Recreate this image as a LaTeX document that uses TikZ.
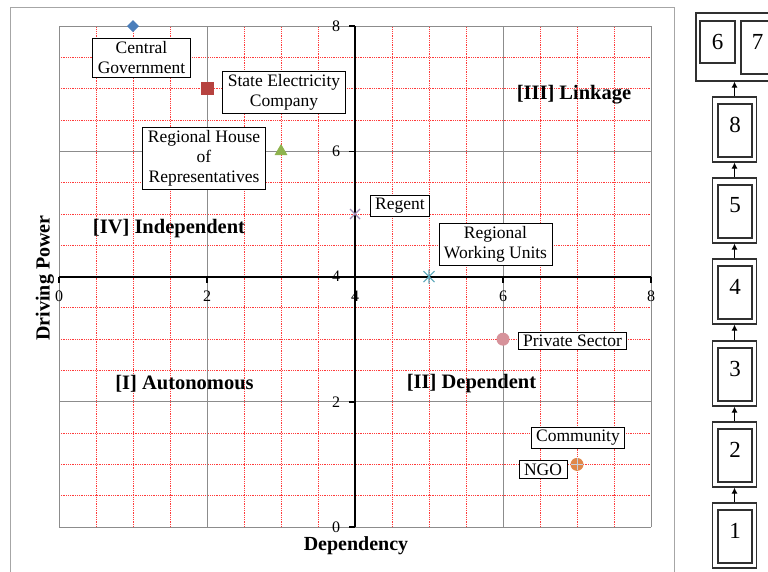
\documentclass[tikz,border=0pt]{standalone}
\usepackage{fontspec}
\setmainfont{Liberation Serif}
\usetikzlibrary{arrows.meta,shapes.geometric,shapes.misc}
\definecolor{framegray}{HTML}{A6A6A6}
\definecolor{majorgray}{HTML}{8C8C8C}
\definecolor{minorred}{HTML}{FF3B3B}
\definecolor{cgblue}{HTML}{4A7EBB}
\definecolor{secred}{HTML}{B6423F}
\definecolor{rhgreen}{HTML}{8FB34E}
\definecolor{regentpurple}{HTML}{A08DB8}
\definecolor{rwuteal}{HTML}{5AA6B8}
\definecolor{pspink}{HTML}{D6929A}
\definecolor{ngoorange}{HTML}{E0874A}
\definecolor{commblue}{HTML}{C9D2DE}
\definecolor{boxline}{HTML}{303030}

\begin{document}
\begin{tikzpicture}[x=1pt,y=-1pt,
  lbl/.style={draw=black,line width=0.8pt,fill=white,align=center,
    inner xsep=5pt,inner ysep=3pt,font=\fontsize{17.5}{20}\selectfont},
  quad/.style={font=\fontsize{20.5}{23}\selectfont\bfseries,inner sep=0pt},
  axtitle/.style={font=\fontsize{20}{23}\selectfont\bfseries,inner sep=0pt},
  ticklbl/.style={font=\fontsize{16}{18}\selectfont,inner sep=0pt},
  minorline/.style={minorred,line width=0.85pt,dash pattern=on 1pt off 0.8pt},
  majorline/.style={majorgray,line width=0.9pt},
  axisline/.style={black,line width=1.8pt},
  outerbox/.style={draw=boxline,line width=1.2pt,minimum width=44pt,
    minimum height=65pt,inner sep=0pt},
  innerbox/.style={draw=boxline,line width=1.2pt,minimum width=34pt,
    minimum height=53pt,inner sep=0pt},
  numlbl/.style={font=\fontsize{23}{26}\selectfont,inner sep=0pt},
  flow/.style={draw=black,line width=1pt,-{Latex[length=6pt,width=6pt]}},
  mk/.style={inner sep=0pt,outer sep=0pt}
]
\useasboundingbox (0,0) rectangle (768,572);

% chart area frame
\draw[framegray,line width=1pt] (10,580) -- (10,7.5) -- (674,7.5) -- (674,580);

% plot area in data coordinates
\begin{scope}[shift={(59,527)},x=74pt,y=62.6pt]
  \foreach \v in {0.5,1,1.5,2.5,3,3.5,4.5,5,5.5,6.5,7,7.5}{
    \draw[minorline] (\v,0) -- (\v,8);
    \draw[minorline] (0,\v) -- (8,\v);
  }
  \foreach \v in {0,2,4,6,8}{
    \draw[majorline] (\v,0) -- (\v,8);
    \draw[majorline] (0,\v) -- (8,\v);
  }
  % axes crossing at (4,4)
  \draw[axisline] (4,0) -- (4,8);
  \draw[axisline] (0,4) -- (8,4);
  \foreach \v in {0,2,4,6,8}{
    \draw[axisline,line width=1.4pt] (4,\v) -- ++(-6pt,0);
    \draw[axisline,line width=1.4pt] (\v,4) -- ++(0,-6pt);
    \node[ticklbl] (ty\v) at ([xshift=-19pt]4,\v) {\v};
    \node[ticklbl] (tx\v) at ([yshift=-20pt]\v,4) {\v};
  }

  % data markers
  \node[mk,diamond,fill=cgblue,minimum width=12pt,minimum height=12pt] (mcg) at (1,8) {};
  \node[mk,rectangle,fill=secred,minimum size=13pt] (msec) at (2,7) {};
  \node[mk,regular polygon,regular polygon sides=3,fill=rhgreen,minimum size=15pt] (mrh) at (3,6) {};
  \node[mk,cross out,draw=regentpurple,line width=1.1pt,minimum size=10pt] (mreg) at (4,5) {};
  \coordinate (mrwu) at (5,4);
  \draw[rwuteal,line width=1.1pt]
    ([shift={(-5.5pt,-5.5pt)}]mrwu) -- ([shift={(5.5pt,5.5pt)}]mrwu)
    ([shift={(-5.5pt,5.5pt)}]mrwu) -- ([shift={(5.5pt,-5.5pt)}]mrwu)
    ([shift={(0,-7pt)}]mrwu) -- ([shift={(0,7pt)}]mrwu);
  \node[mk,circle,fill=pspink,minimum size=13pt] (mps) at (6,3) {};
  \node[mk,circle,fill=ngoorange,minimum size=13pt] (mngo) at (7,1) {};
  \draw[commblue,line width=0.9pt]
    ([xshift=-6pt]mngo.center) -- ([xshift=6pt]mngo.center)
    ([yshift=-6pt]mngo.center) -- ([yshift=6pt]mngo.center);
\end{scope}

% quadrant names
\node[quad] (q3) at (574,95) {[III] Linkage};
\node[quad] (q4) at (169,229) {[IV] Independent};
\node[quad] (q1) at (184.5,384) {[I] Autonomous};
\node[quad] (q2) at (471.5,384) {[II] Dependent};

% axis titles
\node[axtitle] (xtitle) at (356,545.5) {Dependency};
\node[axtitle,rotate=90] (ytitle) at (45,278) {Driving Power};

% data labels
\node[lbl] (lcg) at (141.5,58) {Central\\Government};
\node[lbl] (lsec) at (284,92) {State Electricity\\Company};
\node[lbl] (lrh) at (204,158.5) {Regional House\\of\\Representatives};
\node[lbl] (lreg) at (400,206) {Regent};
\node[lbl] (lrwu) at (495.5,244.5) {Regional\\Working Units};
\node[lbl] (lps) at (572.5,341) {Private Sector};
\node[lbl] (lcom) at (578,438) {Community};
\node[lbl] (lngo) at (543,469.5) {NGO};

% level hierarchy on the right
\node[outerbox,minimum width=94pt,minimum height=68pt] (b67) at (743,47) {};
\node[innerbox,minimum width=35pt,minimum height=42pt] (i6) at (717.5,42) {};
\node[numlbl] (n6) at (717.5,41.5) {6};
\node[innerbox,minimum width=59pt,minimum height=53pt] (i7) at (770.5,47.5) {};
\node[numlbl] (n7) at (757.5,41.5) {7};

\foreach \k/\y in {8/129.5,5/210.5,4/291.5,3/373.5,2/454.5,1/535.5}{
  \node[outerbox] (b\k) at (734.5,\y) {};
  \node[innerbox] (i\k) at (735,\y+1) {};
  \node[numlbl] (n\k) at (735,\y-5) {\k};
}

\draw[flow] (b1.north) -- (b2.south);
\draw[flow] (b2.north) -- (b3.south);
\draw[flow] (b3.north) -- (b4.south);
\draw[flow] (b4.north) -- (b5.south);
\draw[flow] (b5.north) -- (b8.south);
\draw[flow] (b8.north) -- (b8.north |- b67.south);
\end{tikzpicture}
\end{document}
